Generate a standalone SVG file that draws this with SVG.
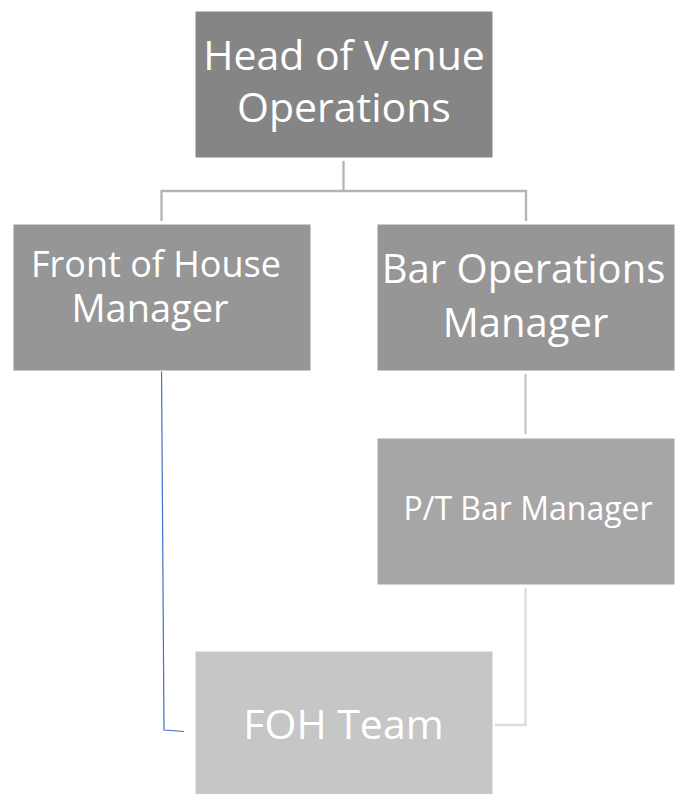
<svg xmlns="http://www.w3.org/2000/svg" width="682" height="794" viewBox="0 0 682 794">
<style>
.box{stroke:#ffffff;stroke-width:1}
.t{font-family:"Open Sans","Liberation Sans",sans-serif;fill:#ffffff;text-anchor:middle}
.c{fill:none;stroke-width:2.3}
</style>
<rect width="682" height="794" fill="#ffffff"/>
<g id="connectors">
<path class="c" stroke="#b4b4b4" d="M343.5,161 V191 H161.5 V221 M343.5,191 H526 V221"/>
<path class="c" stroke="#c8c8c8" d="M525.5,374 V434"/>
<path class="c" stroke="#dcdcdc" d="M525.5,588 V725 H495"/>
<path fill="none" stroke="#4472c4" stroke-width="1.2" d="M161.5,365 L164,730 L184,731.5"/>
</g>
<g id="head">
<rect class="box" x="195" y="11" width="298" height="147" fill="#858585"/>
<text class="t" x="344" y="70" font-size="41">Head of Venue</text>
<text class="t" x="344" y="122" font-size="41">Operations</text>
</g>
<g id="foh-manager">
<rect class="box" x="13" y="224" width="298" height="147" fill="#969696"/>
<text class="t" x="156" y="277" font-size="36">Front of House</text>
<text class="t" x="150" y="322" font-size="38">Manager</text>
</g>
<g id="bar-ops-manager">
<rect class="box" x="377" y="224" width="298" height="147" fill="#969696"/>
<text class="t" x="523.5" y="283" font-size="40">Bar Operations</text>
<text class="t" x="525.5" y="337" font-size="40">Manager</text>
</g>
<g id="pt-bar-manager">
<rect class="box" x="377" y="438" width="298" height="147" fill="#a6a6a6"/>
<text class="t" x="528" y="520" font-size="32">P/T Bar Manager</text>
</g>
<g id="foh-team">
<rect class="box" x="195" y="651" width="298" height="147" fill="#c6c6c6"/>
<text class="t" x="343.5" y="739" font-size="41">FOH Team</text>
</g>
</svg>
